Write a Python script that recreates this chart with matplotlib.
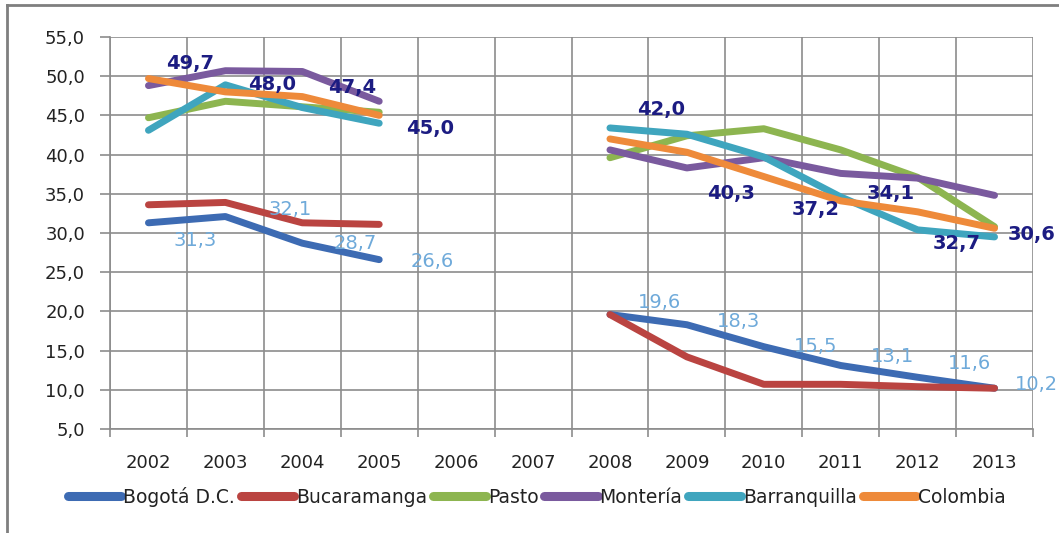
import numpy as np
import matplotlib
matplotlib.use("Agg")
import matplotlib.pyplot as plt
from matplotlib.lines import Line2D

years = ["2002", "2003", "2004", "2005", "2006", "2007", "2008",
         "2009", "2010", "2011", "2012", "2013"]
nan = np.nan
bogota = [31.3, 32.1, 28.7, 26.6, nan, nan, 19.6, 18.3, 15.5, 13.1, 11.6, 10.2]
bucaramanga = [33.6, 33.9, 31.3, 31.1, nan, nan, 19.6, 14.2, 10.7, 10.7, 10.4, 10.2]
pasto = [44.7, 46.8, 46.1, 45.4, nan, nan, 39.6, 42.4, 43.3, 40.6, 37.1, 30.8]
monteria = [48.8, 50.7, 50.6, 46.8, nan, nan, 40.6, 38.3, 39.6, 37.6, 37.0, 34.8]
barranquilla = [43.1, 48.9, 46.0, 44.0, nan, nan, 43.4, 42.6, 39.7, 34.6, 30.4, 29.5]
colombia = [49.7, 48.0, 47.4, 45.0, nan, nan, 42.0, 40.3, 37.2, 34.1, 32.7, 30.6]

series_names = ["Bogotá D.C.", "Bucaramanga", "Pasto", "Montería", "Barranquilla", "Colombia"]
series_vals = [bogota, bucaramanga, pasto, monteria, barranquilla, colombia]
colors = ["#3D6BB3", "#BA4441", "#8DB550", "#7A5A9E", "#3FA5BE", "#EE8A3A"]

yticks = [5, 10, 15, 20, 25, 30, 35, 40, 45, 50, 55]

# label offsets (px) for data labels
bog_off = [(47, -18), (65, 7), (53, 0), (53, -2), None, None,
           (50, 12), (52, 3), (52, 0), (52, 9), (52, 14), (42, 4)]
col_off = [(42, 15), (47, 7), (50, 9), (51, -13), None, None,
           (51, 29), (44, -41), (52, -33), (50, 7), (39, -32), (37, -6)]

plt.rcParams['font.family'] = ['DejaVu Sans']
fig = plt.figure(figsize=(10.59, 5.33), dpi=100)
ax = fig.add_axes([110 / 1059, 1 - 429 / 533, (1033 - 110) / 1059, (429 - 37) / 533])

x = np.arange(len(years))
for name, vals, c in zip(series_names, series_vals, colors):
    ax.plot(x, vals, color=c, lw=5, solid_capstyle='round',
            solid_joinstyle='round', label=name, zorder=3)

px = 0.72
for i, v in enumerate(bogota):
    if bog_off[i] is None or np.isnan(v):
        continue
    dx, dy = bog_off[i]
    ax.annotate(f"{v:.1f}".replace(".", ","), (x[i], v),
                xytext=(dx * px, dy * px), textcoords='offset points',
                ha='center', va='center', fontsize=14, color="#6FAADA", zorder=5)
for i, v in enumerate(colombia):
    if col_off[i] is None or np.isnan(v):
        continue
    dx, dy = col_off[i]
    ax.annotate(f"{v:.1f}".replace(".", ","), (x[i], v),
                xytext=(dx * px, dy * px), textcoords='offset points',
                ha='center', va='center', fontsize=14, color="#1C1C82",
                fontweight='bold', zorder=5)

ax.set_xlim(-0.5, len(years) - 0.5)
ax.set_ylim(5, 55)
ax.set_yticks(yticks)
ax.set_yticklabels([f"{t:.1f}".replace(".", ",") for t in yticks], fontsize=13, color="#222222")
ax.set_xticks(x)
ax.set_xticklabels(years, fontsize=13, color="#222222")
ax.set_xticks(np.arange(-0.5, len(years)), minor=True)
ax.tick_params(axis='x', which='major', length=0, pad=18)
ax.tick_params(axis='x', which='minor', length=6, color="#8C8C8C", width=1.2)
ax.tick_params(axis='y', which='major', length=7, color="#8C8C8C", width=1.2, pad=11)

ax.grid(True, axis='y', which='major', color="#8C8C8C", lw=1.2, zorder=0)
ax.grid(True, axis='x', which='minor', color="#8C8C8C", lw=1.2, zorder=0)
ax.grid(False, axis='x', which='major')
for s in ['top', 'right']:
    ax.spines[s].set_visible(False)
for s in ['left', 'bottom']:
    ax.spines[s].set_color("#8C8C8C")
    ax.spines[s].set_linewidth(1.2)
ax.set_axisbelow(True)

handles = [Line2D([0], [0], color=c, lw=6.5, solid_capstyle='round') for c in colors]
fig.legend(handles, series_names, loc='center', bbox_to_anchor=(0.507, 1 - 497 / 533),
           ncol=6, frameon=False, fontsize=13.5, handlelength=2.85, handletextpad=0.1,
           columnspacing=0.3, labelcolor="#222222")

# outer chart border (top and left visible)
fig.add_artist(Line2D([7 / 1059, 7 / 1059], [0, 1 - 5 / 533], color="#7F7F7F", lw=2))
fig.add_artist(Line2D([7 / 1059, 1], [1 - 5 / 533, 1 - 5 / 533], color="#7F7F7F", lw=2))

fig.savefig("out.png", dpi=100)
